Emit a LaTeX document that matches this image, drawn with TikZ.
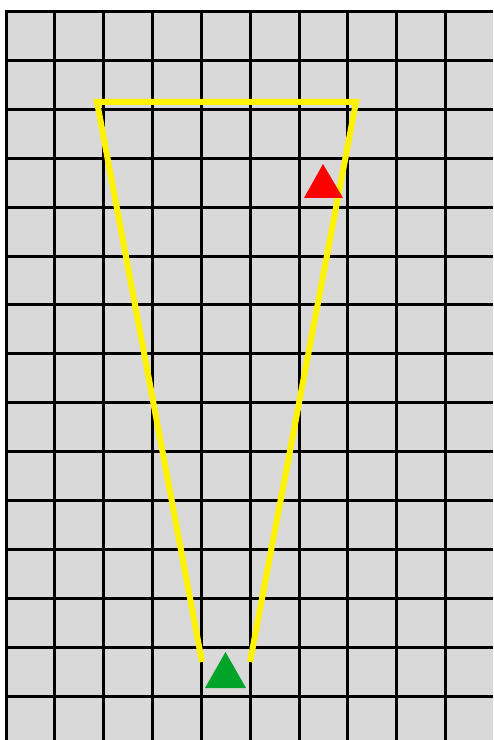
\documentclass[tikz,border=0pt]{standalone}
\begin{document}
\begin{tikzpicture}[x=0.03cm,y=-0.03cm,
  gridline/.style={draw=black,line width=0.09cm},
  trail/.style={draw=yellow,line width=0.18cm,line join=miter},
  marker/.style={draw=none}]
\definecolor{bggrey}{RGB}{217,217,217}
\definecolor{mkgreen}{RGB}{0,164,40}
\useasboundingbox (0,0) rectangle (493,740);
\fill[white] (0,0) rectangle (493,740);
\fill[bggrey] (4.5,10) rectangle (493,740);
\foreach \k in {0,...,9} {
  \draw[gridline] ({6+48.85*\k},10) -- ({6+48.85*\k},740);
}
\foreach \k in {0,...,14} {
  \draw[gridline] (4.5,{11.5+48.9*\k}) -- (493,{11.5+48.9*\k});
}
\coordinate (bl) at (202,662);
\coordinate (tl) at (97,102);
\coordinate (tr) at (356,102);
\coordinate (br) at (250,662);
\draw[trail] (bl) -- (tl) -- (tr) -- (br);
\fill[red] (323,164) -- (343,198) -- (304,198) -- cycle;
\fill[mkgreen] (225.5,652) -- (246,688) -- (205,688) -- cycle;
\end{tikzpicture}
\end{document}
